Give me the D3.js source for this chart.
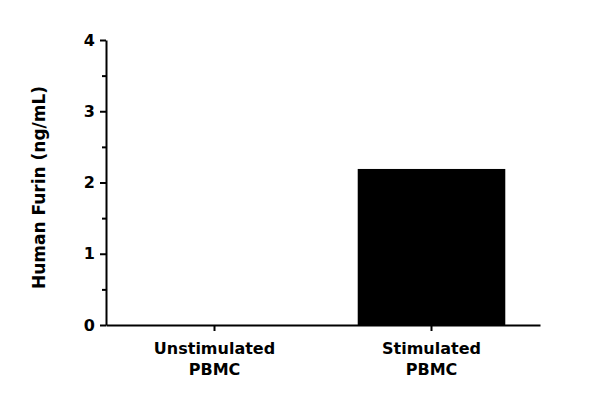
<!DOCTYPE html>
<html><head><meta charset="utf-8">
<script src="https://cdn.jsdelivr.net/npm/d3@7"></script>
<style>body{margin:0;background:#fff}text{font-family:"DejaVu Sans",sans-serif;font-weight:bold}</style>
</head><body><svg id="c" width="600" height="419"></svg>
<script>
var categories = [['Unstimulated', 'PBMC'], ['Stimulated', 'PBMC']];
var values = [0, 2.19];
var yTicks = [0, 1, 2, 3, 4];

var svg = d3.select('#c');
var mLeft = 106, mRight = 540, mTop = 40, mBottom = 325;

var x = d3.scaleBand().domain([0, 1]).range([mLeft, mRight]).paddingInner(0.32).paddingOuter(0.16);
var y = d3.scaleLinear().domain([0, 4]).range([mBottom, mTop]);

svg.selectAll('rect.bar').data(values).enter().append('rect')
  .attr('x', function (d, i) { return x(i); })
  .attr('width', x.bandwidth())
  .attr('y', function (d) { return y(d); })
  .attr('height', function (d) { return mBottom - y(d); })
  .attr('fill', '#000');

// y axis with minor ticks
var ya = svg.append('g').attr('transform', 'translate(' + mLeft + ',0)')
  .call(d3.axisLeft(y).tickValues(yTicks).tickSize(6).tickPadding(5).tickSizeOuter(0).tickFormat(d3.format('d')));
ya.append('g').call(d3.axisLeft(y).tickValues(d3.range(0.5, 4, 1)).tickSize(4).tickSizeOuter(0).tickFormat(''))
  .select('.domain').remove();
ya.selectAll('path,line').attr('stroke', '#000').attr('stroke-width', 2);
ya.selectAll('text').attr('font-size', 16).attr('fill', '#000');

var xa = svg.append('g').attr('transform', 'translate(0,' + mBottom + ')')
  .call(d3.axisBottom(x).tickSize(6).tickSizeOuter(0).tickFormat(''));
xa.selectAll('path,line').attr('stroke', '#000').attr('stroke-width', 2);
xa.selectAll('.tick').each(function (d) {
  var t = d3.select(this).append('text').attr('fill', '#000').attr('font-size', 16)
    .attr('text-anchor', 'middle');
  categories[d].forEach(function (s, k) {
    t.append('tspan').attr('x', 0).attr('y', 29 + k * 21).text(s);
  });
});

svg.append('text').attr('transform', 'translate(45,' + ((mTop + mBottom) / 2 + 5) + ') rotate(-90)')
  .attr('text-anchor', 'middle').attr('font-size', 17).text('Human Furin (ng/mL)');
</script></body></html>
